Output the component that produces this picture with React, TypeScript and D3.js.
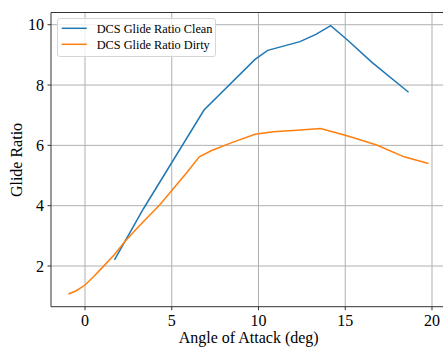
import React from "react";
import * as d3 from "d3";

const cleanAoA = [1.7, 3.36, 6.86, 9.8, 10.53, 12.39, 13.31, 14.16, 15.08, 16.54, 18.65];
const cleanRatio = [2.2, 3.89, 7.17, 8.85, 9.15, 9.44, 9.68, 9.97, 9.52, 8.75, 7.76];

const dirtyAoA = [-0.96, -0.5, 0, 0.5, 1.05, 1.7, 2.3, 3.0, 3.5, 4.3, 5.0, 5.8, 6.59, 7.3, 8.5, 9.8, 10.85, 12.2, 13.58, 15.2, 16.81, 18.39, 19.8];
const dirtyRatio = [1.07, 1.18, 1.37, 1.65, 1.98, 2.38, 2.81, 3.25, 3.55, 4.02, 4.5, 5.05, 5.62, 5.83, 6.1, 6.37, 6.45, 6.5, 6.56, 6.3, 6.01, 5.62, 5.4];

const xTicks = [0, 5, 10, 15, 20];
const yTicks = [2, 4, 6, 8, 10];

const seriesNames = ["DCS Glide Ratio Clean", "DCS Glide Ratio Dirty"];
const seriesColors = ["#1f77b4", "#ff7f0e"];

export default function App() {
  const W = 443, H = 347;
  const x = d3.scaleLinear().domain([-1.96, 20.94]).range([51, 448.3]);
  const y = d3.scaleLinear().domain([0.651, 10.405]).range([306.7, 12.5]);
  const line = d3.line<[number, number]>().x(d => x(d[0])).y(d => y(d[1]));
  const clean = cleanAoA.map((a, i) => [a, cleanRatio[i]] as [number, number]);
  const dirty = dirtyAoA.map((a, i) => [a, dirtyRatio[i]] as [number, number]);
  const x0 = x.range()[0], x1 = x.range()[1], y0 = y.range()[0], y1 = y.range()[1];
  const font = "'Liberation Serif', 'Times New Roman', serif";
  return (
    <svg width={W} height={H} style={{ position: "absolute", left: 0, top: 0, background: "#fff" }} fontFamily={font}>
      <rect x={0} y={0} width={W} height={H} fill="#fff" />
      {xTicks.map(t => (
        <line key={"gx" + t} x1={x(t)} x2={x(t)} y1={y0} y2={y1} stroke="#b0b0b0" strokeWidth={1} />
      ))}
      {yTicks.map(t => (
        <line key={"gy" + t} x1={x0} x2={x1} y1={y(t)} y2={y(t)} stroke="#b0b0b0" strokeWidth={1} />
      ))}
      <path d={line(clean) || ""} fill="none" stroke={seriesColors[0]} strokeWidth={1.5} />
      <path d={line(dirty) || ""} fill="none" stroke={seriesColors[1]} strokeWidth={1.5} />
      <line x1={x0} x2={x0} y1={y0} y2={y1} stroke="#333" strokeWidth={1} />
      <line x1={x0} x2={x1} y1={y0} y2={y0} stroke="#333" strokeWidth={1} />
      <line x1={x0} x2={x1} y1={y1} y2={y1} stroke="#333" strokeWidth={1} />
      {xTicks.map(t => (
        <g key={"tx" + t}>
          <line x1={x(t)} x2={x(t)} y1={y0} y2={y0 + 3.5} stroke="#333" />
          <text x={x(t)} y={y0 + 19} textAnchor="middle" fontSize={16} fill="#000">{t}</text>
        </g>
      ))}
      {yTicks.map(t => (
        <g key={"ty" + t}>
          <line x1={x0 - 3.5} x2={x0} y1={y(t)} y2={y(t)} stroke="#333" />
          <text x={x0 - 7} y={y(t) + 5.5} textAnchor="end" fontSize={16} fill="#000">{t}</text>
        </g>
      ))}
      <text x={(181.7 + 315.7) / 2} y={343} textAnchor="middle" fontSize={16} fill="#000">Angle of Attack (deg)</text>
      <text transform={`translate(22,160) rotate(-90)`} textAnchor="middle" fontSize={16} fill="#000">Glide Ratio</text>
      <rect x={57.5} y={18.5} width={158} height={38} rx={2.5} fill="#fff" fillOpacity={0.8} stroke="#d5d5d5" strokeWidth={1} />
      {seriesNames.map((n, i) => (
        <g key={n}>
          <line x1={61.7} x2={86.7} y1={28.3 + i * 16} y2={28.3 + i * 16} stroke={seriesColors[i]} strokeWidth={1.5} />
          <text x={96.7} y={32.6 + i * 16} fontSize={12.3} fill="#000">{n}</text>
        </g>
      ))}
    </svg>
  );
}
